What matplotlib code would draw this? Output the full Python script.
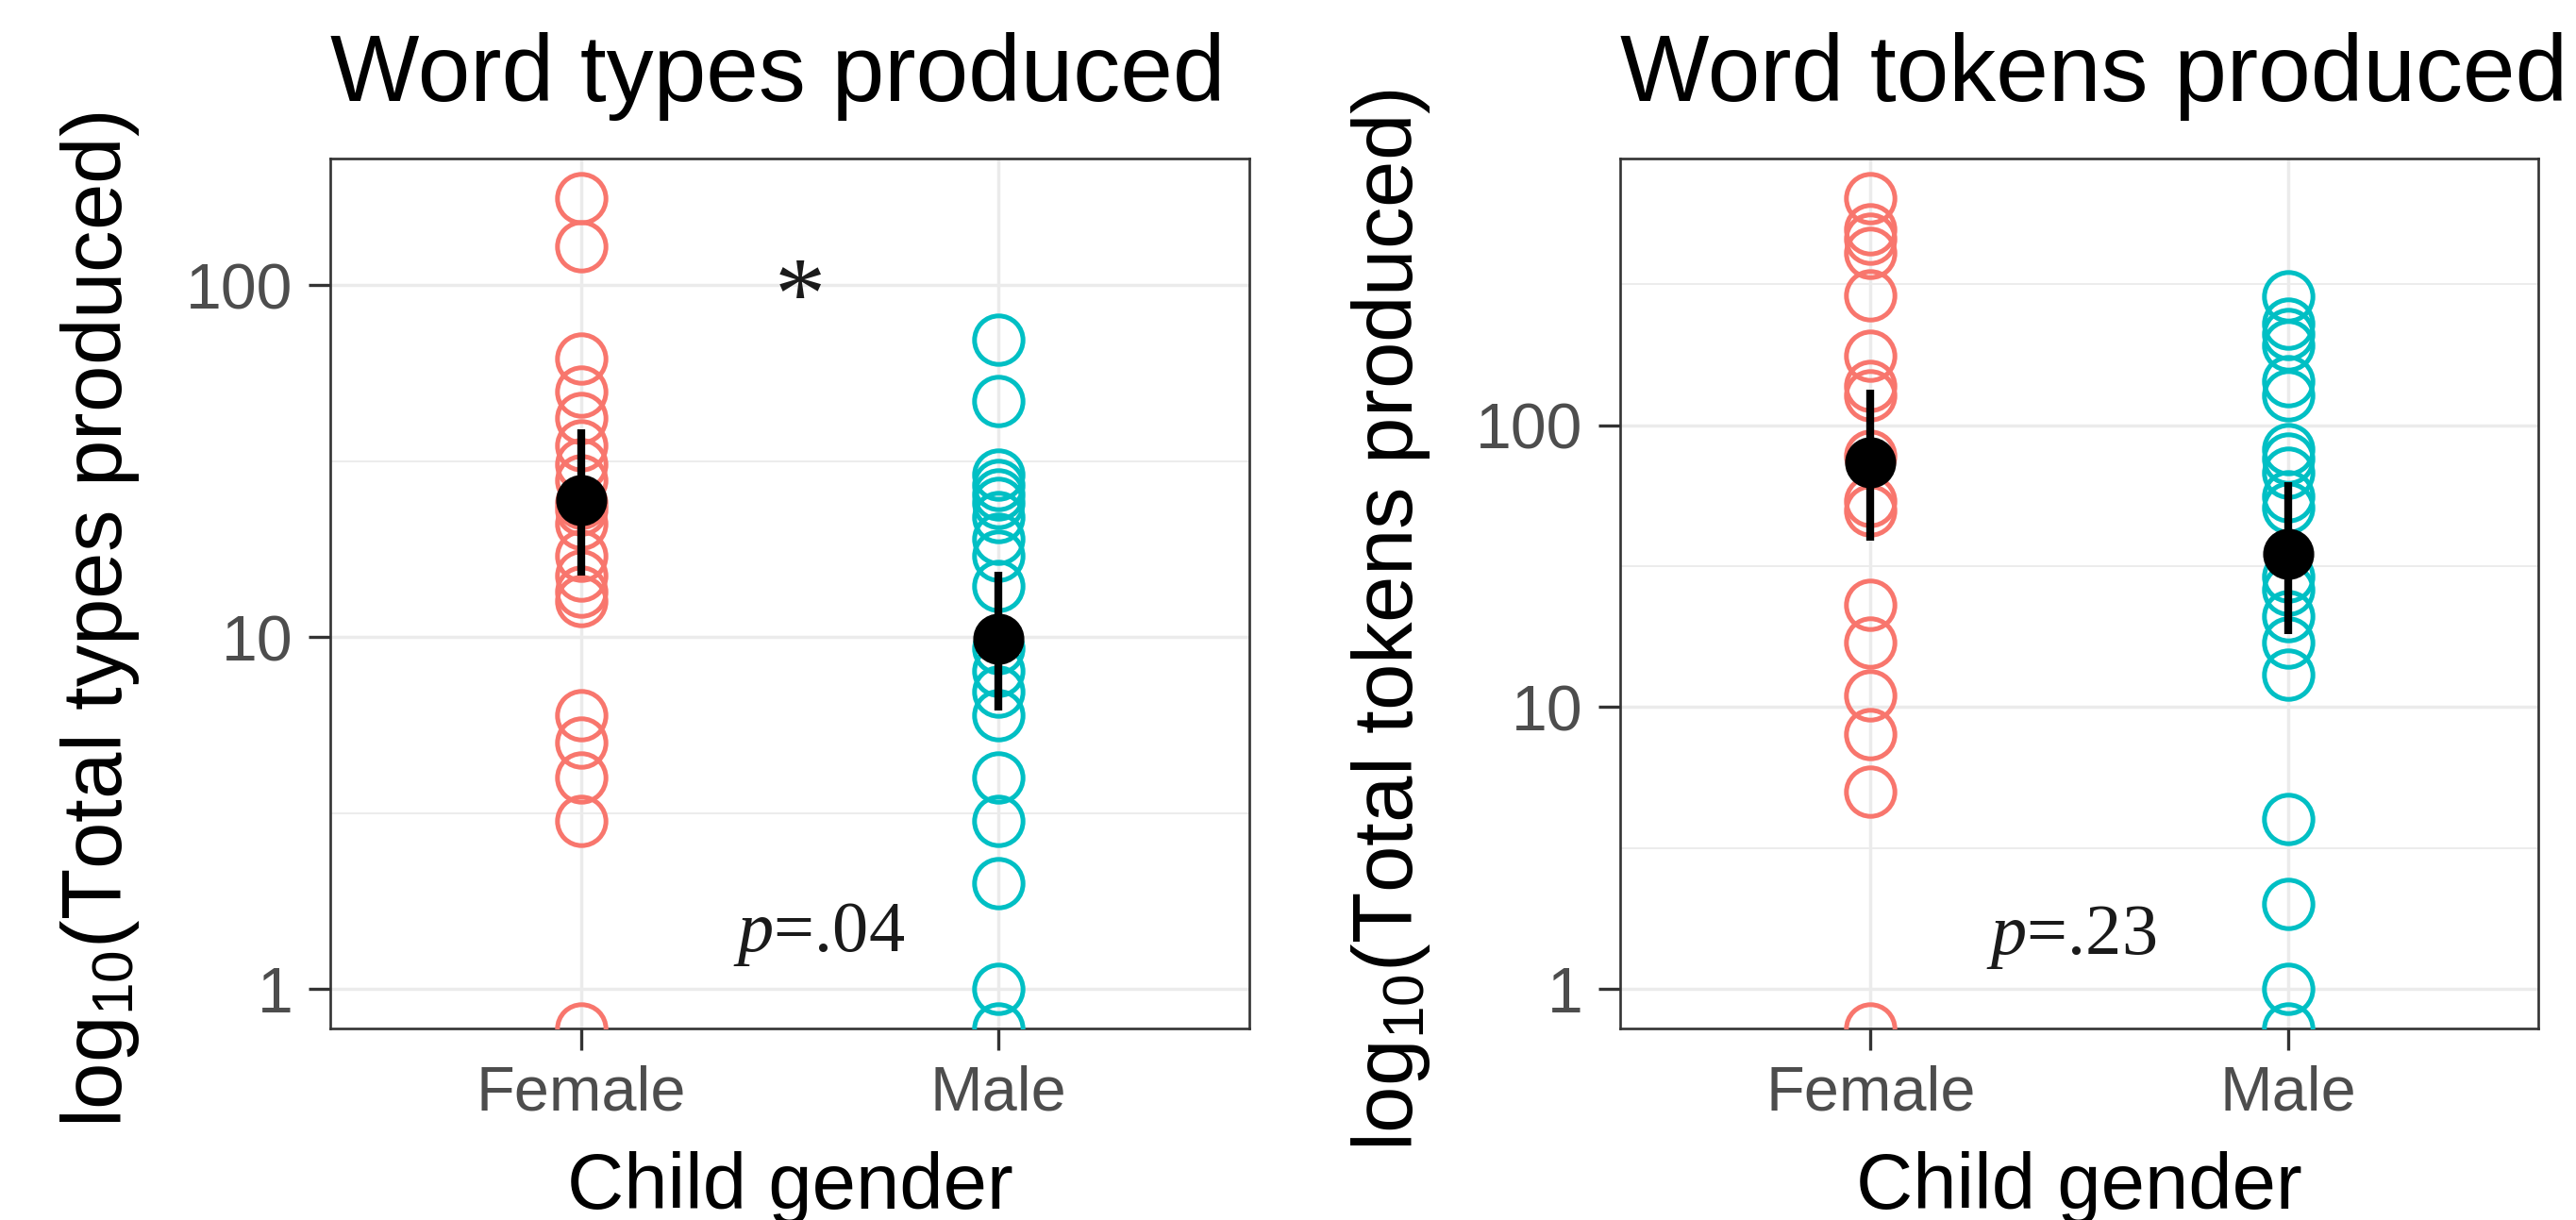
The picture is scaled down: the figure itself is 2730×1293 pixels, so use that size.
import numpy as np
import matplotlib
matplotlib.use("Agg")
import matplotlib.pyplot as plt

plt.rcParams['font.family'] = ['Liberation Sans', 'DejaVu Sans']
plt.rcParams['mathtext.fontset'] = 'custom'
plt.rcParams['mathtext.rm'] = 'Liberation Sans'
plt.rcParams['mathtext.it'] = 'Liberation Serif:italic'

# --- data (0 = child produced nothing, drawn at the panel edge) ---
groups = ["Female", "Male"]
group_colors = ["#F8766D", "#00BFC4"]

female_types = [177, 129, 62, 50, 42, 35, 31, 28, 24, 23, 21, 17, 15, 13.5, 12.7, 6, 5, 4, 3, 0]
male_types = [70, 47, 29, 27, 25.5, 24, 22, 19, 17, 14, 9.3, 8, 7, 6, 4, 3, 2, 1, 0]
types_mean = [24.5, 9.9]
types_lo = [15, 6.2]
types_hi = [39, 15.3]

female_tokens = [640, 494, 458, 408, 289, 176, 138, 128, 78, 54, 50, 23, 17, 11, 8, 5, 0]
male_tokens = [286, 230, 210, 192, 143, 128, 82, 76, 68, 56, 51, 29, 26, 21, 17, 13, 4, 2, 1, 0]
tokens_mean = [73.6, 35]
tokens_lo = [39, 18.1]
tokens_hi = [134, 63]

titles = ["Word types produced", "Word tokens produced"]
ylabels = [r"log$_{10}$(Total types produced)", r"log$_{10}$(Total tokens produced)"]
p_texts = [r"$p$=.04", r"$p$=.23"]
p_xy = [(1.57, 1.28), (1.48, 1.33)]
star_xy = (1.525, 76)


def draw_panel(ax, female, male, mean, lo, hi, title, ylabel, ptxt, pxy):
    female = np.array(female, dtype=float)
    male = np.array(male, dtype=float)
    allv = np.concatenate([female, male])
    nz = allv[allv > 0]
    lmin, lmax = np.log10(nz.min()), np.log10(nz.max())
    r = lmax - lmin
    ylo, yhi = 10 ** (lmin - 0.05 * r), 10 ** (lmax + 0.05 * r)

    ax.set_yscale("log")

    for i, (vals, col) in enumerate(zip([female, male], group_colors)):
        y = np.where(vals > 0, vals, ylo)
        ax.plot(np.full(len(y), i + 1), y, "o", mfc="none", mec=col,
                ms=37, mew=3.6, zorder=3, clip_on=True)

    xs = np.arange(1, 3)
    ax.vlines(xs, lo, hi, color="black", lw=6, zorder=4)
    ax.plot(xs, mean, "o", color="black", ms=38, zorder=5)

    ax.set_xticks(xs)
    ax.set_xticklabels(groups)
    ax.set_yticks([1, 10, 100])
    ax.set_yticklabels(["1", "10", "100"])
    ax.set_yticks([10 ** 0.5, 10 ** 1.5, 10 ** 2.5], minor=True)
    ax.yaxis.set_minor_formatter(plt.NullFormatter())
    ax.tick_params(which="major", length=16.5, width=2.4, color="#333333",
                   labelsize=49, labelcolor="#4D4D4D", pad=12)
    ax.tick_params(axis="x", which="major", labelsize=48, pad=11)
    ax.tick_params(which="minor", length=0)

    # limits after the ticks, so the minor ticks do not stretch the view
    ax.set_xlim(0.4, 2.6)
    ax.set_ylim(ylo, yhi)

    ax.grid(True, which="major", color="#EBEBEB", lw=2.5, zorder=0)
    ax.grid(True, which="minor", axis="y", color="#EBEBEB", lw=1.3, zorder=0)
    ax.set_axisbelow(True)
    for s in ax.spines.values():
        s.set_color("#333333")
        s.set_linewidth(1.9)

    ax.set_title(title, loc="left", fontsize=72, pad=44)
    ax.set_xlabel("Child gender", fontsize=60)
    ax.xaxis.label.set_va("baseline")
    ax.xaxis.set_label_coords(0.5, -0.207)
    ax.set_ylabel(ylabel, fontsize=64)
    ax.yaxis.set_label_coords(-0.205, 0.47)

    ax.text(pxy[0], pxy[1], ptxt, fontsize=55, family="Liberation Serif",
            ha="center", va="baseline", color="#1a1a1a", zorder=6)


fig = plt.figure(figsize=(27.3, 12.93), dpi=100)
ax1 = fig.add_axes([350 / 2730, 203 / 1293, 974 / 2730, 922 / 1293])
ax2 = fig.add_axes([1717 / 2730, 203 / 1293, 973 / 2730, 922 / 1293])

draw_panel(ax1, female_types, male_types, types_mean, types_lo, types_hi,
           titles[0], ylabels[0], p_texts[0], p_xy[0])
draw_panel(ax2, female_tokens, male_tokens, tokens_mean, tokens_lo, tokens_hi,
           titles[1], ylabels[1], p_texts[1], p_xy[1])

ax1.text(star_xy[0], star_xy[1], "*", fontsize=78, family="Liberation Serif",
         ha="center", va="baseline", color="#1a1a1a", zorder=6)

fig.savefig("out.png", dpi=100)
